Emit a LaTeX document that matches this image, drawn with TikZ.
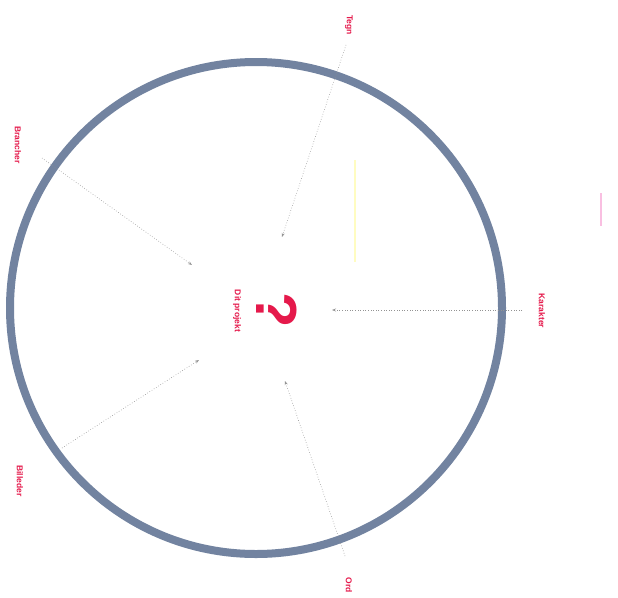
\documentclass[tikz,border=0pt]{standalone}
\usepackage{fontspec}
\setmainfont{Liberation Sans}
\usetikzlibrary{arrows.meta}
\definecolor{ringc}{HTML}{7283A0}
\definecolor{redc}{HTML}{E5194B}
\tikzset{
  lbl/.style={text=redc, font=\fontsize{8.5}{10}\selectfont\bfseries, rotate=-90, inner sep=0pt},
  conn/.style={draw=gray!85, line width=0.6pt, dotted, -{Stealth[length=4pt,width=3pt]}},
}
\begin{document}
\begin{tikzpicture}[x=1pt,y=-1pt]
\useasboundingbox (0,0) rectangle (618,597);
\fill[white] (0,0) rectangle (618,597);
% faint artefacts
\draw[yellow!40, line width=1.5pt, opacity=0.6] (355,160) -- (355,262);
\draw[magenta!50, line width=1.2pt, opacity=0.5] (601,193) -- (601,226);
% ring
\node[circle, draw=ringc, line width=8pt, minimum size=492pt, inner sep=0pt] (ring) at (256,308) {};
% centre
\node[text=redc, font=\fontsize{58}{62}\selectfont\bfseries, rotate=-90, inner sep=0pt] (q) at (277,310) {?};
\node[lbl] (dit) at (237,311) {Dit projekt};
% labels
\node[lbl] (tegn) at (349,25) {Tegn};
\node[lbl] (bran) at (18,145) {Brancher};
\node[lbl] (bill) at (20,481) {Billeder};
\node[lbl] (ord) at (349,585) {Ord};
\node[lbl] (kar) at (542,311) {Karakter};
% connector end points
\coordinate (tS) at (346,45);
\coordinate (tE) at (282,237);
\coordinate (bS) at (42,158);
\coordinate (bE) at (192,265);
\coordinate (lS) at (62,448);
\coordinate (lE) at (199,360);
\coordinate (oS) at (345,556);
\coordinate (oE) at (285,381);
\coordinate (kS) at (522,310);
\coordinate (kE) at (332,310);
\draw[conn] (tS) -- (tE);
\draw[conn] (bS) -- (bE);
\draw[conn] (lS) -- (lE);
\draw[conn] (oS) -- (oE);
\draw[conn] (kS) -- (kE);
\end{tikzpicture}
\end{document}
